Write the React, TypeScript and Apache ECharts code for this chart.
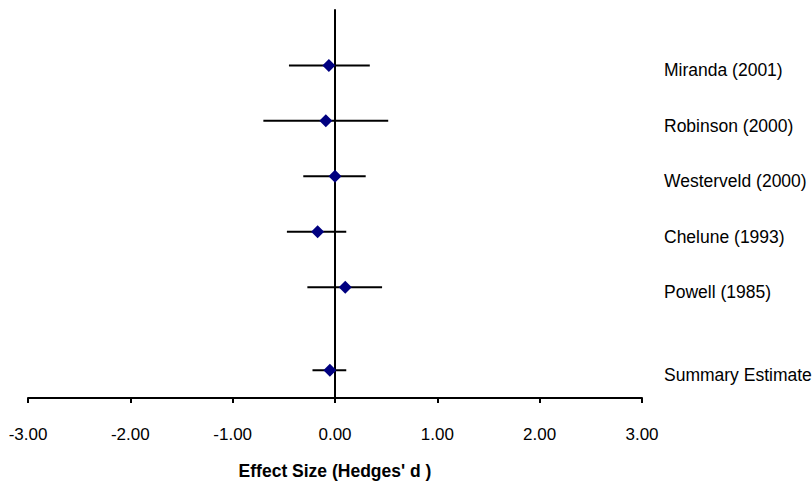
import React, { useEffect, useRef } from "react";
import * as echarts from "echarts";

const studies = [
  "Miranda (2001)",
  "Robinson (2000)",
  "Westerveld (2000)",
  "Chelune (1993)",
  "Powell (1985)",
  "Summary Estimate",
];
const rowPos = [6, 5, 4, 3, 2, 0.5];
const effect = [-0.06, -0.09, 0.0, -0.17, 0.1, -0.05];
const lower = [-0.45, -0.7, -0.31, -0.47, -0.27, -0.22];
const upper = [0.34, 0.52, 0.3, 0.11, 0.46, 0.11];
const xTicks = [-3, -2, -1, 0, 1, 2, 3];

const FONT = "'Liberation Sans', Arial, sans-serif";

export default function App() {
  const ref = useRef<HTMLDivElement>(null);
  useEffect(() => {
    if (!ref.current) return;
    const chart = echarts.init(ref.current, null, { renderer: "svg" });
    const barData = studies.map((s, i) => [lower[i], upper[i], rowPos[i], s]);
    chart.setOption({
      animation: false,
      backgroundColor: "#ffffff",
      grid: { left: 28, right: 170, top: 10, bottom: 86 },
      xAxis: {
        type: "value",
        min: xTicks[0],
        max: xTicks[xTicks.length - 1],
        interval: 1,
        splitLine: { show: false },
        axisLine: { show: true, onZero: false, lineStyle: { color: "#000", width: 2 } },
        axisTick: { show: true, length: 5, lineStyle: { color: "#000", width: 2 } },
        axisLabel: {
          color: "#000",
          fontFamily: FONT,
          fontSize: 17,
          margin: 28,
          formatter: (v: number) => v.toFixed(2),
        },
        name: "Effect Size (Hedges' d )",
        nameLocation: "middle",
        nameGap: 64,
        nameTextStyle: { color: "#000", fontFamily: FONT, fontSize: 17.5, fontWeight: "bold" },
      },
      yAxis: {
        type: "value",
        min: 0,
        max: 7,
        interval: 1,
        splitLine: { show: false },
        axisLine: { show: true, onZero: true, lineStyle: { color: "#000", width: 2 } },
        axisTick: { show: false },
        axisLabel: { show: false },
      },
      series: [
        {
          type: "custom",
          data: barData,
          renderItem: (params: any, api: any) => {
            const lo = api.coord([api.value(0), api.value(2)]);
            const hi = api.coord([api.value(1), api.value(2)]);
            const right = api.coord([3, api.value(2)]);
            const name = studies[params.dataIndex];
            return {
              type: "group",
              children: [
                {
                  type: "line",
                  shape: { x1: lo[0], y1: lo[1], x2: hi[0], y2: hi[1] },
                  style: { stroke: "#000", lineWidth: 2 },
                },
                {
                  type: "text",
                  x: right[0] + 22,
                  y: right[1] + 5,
                  style: {
                    text: name,
                    fill: "#000",
                    fontFamily: FONT,
                    fontSize: 17.5,
                    verticalAlign: "middle",
                    align: "left",
                  },
                },
              ],
            };
          },
          z: 2,
        },
        {
          type: "scatter",
          data: effect.map((e, i) => [e, rowPos[i]]),
          symbol: "diamond",
          symbolSize: [13, 13],
          itemStyle: { color: "#000080", opacity: 1 },
          z: 3,
        },
      ],
    });
    return () => chart.dispose();
  }, []);
  return (
    <div
      ref={ref}
      style={{ position: "fixed", left: 0, top: 0, width: 812, height: 485 }}
    />
  );
}
